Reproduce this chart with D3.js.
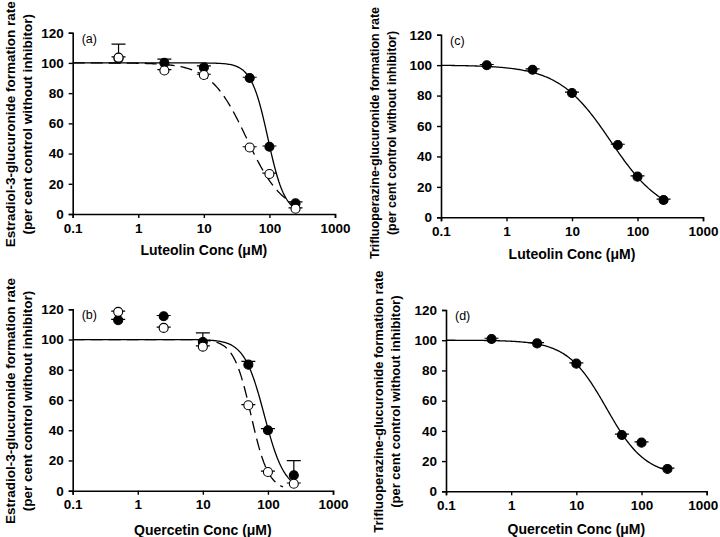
<!DOCTYPE html>
<html>
<head>
<meta charset="utf-8">
<script src="https://cdn.jsdelivr.net/npm/d3@7"></script>
<style>
    body { margin: 0; background: #fff; }
    text { font-family: "Liberation Sans", Arial, sans-serif; }
</style>
</head>
<body>
<script>
// inhibitor concentrations (uM), same for every panel
var conc = [0.5, 2.5, 10, 50, 100, 250];
var xTicks = [0.1, 1, 10, 100, 1000];
var yTicks = [0, 20, 40, 60, 80, 100, 120];

// (a) estradiol, luteolin
var aFilled = [103, 100, 97, 90, 44.5, 7];
var aFilledSd = [9.5, 2.5, 1, 0.5, 0.5, 1];
var aOpen = [103.5, 95, 92, 44, 26.5, 3.5];
var aOpenSd = [0.5, 0.5, 0.5, 0.5, 0.5, 0.5];

// (b) estradiol, quercetin
var bFilled = [112.8, 115.4, 98.4, 83.4, 40, 10.2];
var bFilledSd = [0.5, 0.5, 6, 2.2, 1, 9.7];
var bOpen = [118.3, 107.7, 95.3, 56.5, 12.4, 4.6];
var bOpenSd = [0.5, 0.5, 0.5, 0.5, 0.5, 0.5];

// (c) trifluoperazine, luteolin
var cFilled = [99.9, 97, 81.7, 47.5, 26.7, 11.4];
var cFilledSd = [0.5, 0.5, 0.5, 0.5, 0.5, 0.5];

// (d) trifluoperazine, quercetin
var dFilled = [100.8, 97.9, 84.5, 37.3, 32.2, 14.8];
var dFilledSd = [0.5, 0.5, 0.5, 0.5, 0.5, 0.5];

// fitted inhibition curves: top, bottom, IC50, hill slope, last x
var aSolidFit = [100, 0, 95, 3.4, 250];
var aDashFit = [100, 0, 45, 1.58, 250];
var bSolidFit = [100, 0, 88, 2.8, 240];
var bDashFit = [100, 0, 55, 3.25, 170];
var cFit = [100, 0, 39, 1.09, 250];
var dFit = [100, 10, 29, 1.45, 250];

var svg = d3.select("body")
    .append("svg")
    .attr("width", 720)
    .attr("height", 537);

/**
 * draws one panel with its axes
 */
function drawPanel(p) {
    var x = d3.scaleLog().domain([0.1, 1000]).range([p.left, p.right]);
    var y = d3.scaleLinear().domain([0, 120]).range([p.bottom, p.top]);
    var g = svg.append("g");

    var xAxis = g.append("g")
        .attr("transform", "translate(0," + p.bottom + ")")
        .call(d3.axisBottom(x).tickValues(xTicks).tickSize(4).tickPadding(5)
            .tickFormat(d3.format("")));
    var yAxis = g.append("g")
        .attr("transform", "translate(" + p.left + ",0)")
        .call(d3.axisLeft(y).tickValues(yTicks).tickSize(4).tickPadding(5));

    [xAxis, yAxis].forEach(function (ax) {
        ax.select(".domain").attr("stroke", "#000").attr("stroke-width", 1.6);
        ax.selectAll(".tick line").attr("stroke", "#000").attr("stroke-width", 1.4);
        ax.selectAll(".tick text")
            .attr("fill", "#000")
            .style("font-size", "13.5px")
            .style("font-weight", "bold");
    });
    // keep the last x label inside the window
    if (p.right > 705) {
        xAxis.selectAll(".tick text").filter(function (d) { return d === 1000; })
            .attr("dx", -4);
    }

    g.append("text")
        .attr("x", (p.left + p.right) / 2)
        .attr("y", p.bottom + p.xTitleDy)
        .style("text-anchor", "middle")
        .style("font-size", "14px")
        .style("font-weight", "bold")
        .text(p.xTitle);

    var cy = (p.top + p.bottom) / 2 + p.titleShift;
    p.yTitle.forEach(function (line, i) {
        g.append("text")
            .attr("transform", "translate(" + (p.titleX + i * 17) + "," + cy + ") rotate(-90)")
            .attr("dy", "0.35em")
            .style("text-anchor", "middle")
            .style("font-size", p.titleSize)
            .style("font-weight", "bold")
            .text(line);
    });

    g.append("text")
        .attr("x", p.left + 9)
        .attr("y", p.top + 10)
        .style("font-size", "12.5px")
        .text(p.label);

    var line = d3.line()
        .x(function (d) { return x(d[0]); })
        .y(function (d) { return y(d[1]); });

    p.fits.forEach(function (f) {
        var pts = [];
        var lo = Math.log10(0.1), hi = Math.log10(f.fit[4]);
        for (var i = 0; i <= 200; i++) {
            var c = Math.pow(10, lo + (hi - lo) * i / 200);
            var v = f.fit[1] + (f.fit[0] - f.fit[1]) / (1 + Math.pow(c / f.fit[2], f.fit[3]));
            pts.push([c, v]);
        }
        g.append("path")
            .datum(pts)
            .attr("d", line)
            .attr("fill", "none")
            .attr("stroke", "#000")
            .attr("stroke-width", 1.3)
            .attr("stroke-dasharray", f.dash ? "12,6" : null);
    });

    p.series.forEach(function (s) {
        var data = conc.map(function (c, i) { return { c: c, v: s.values[i], sd: s.sd[i] }; });
        var sg = g.append("g");
        sg.selectAll(".err")
            .data(data)
            .enter()
            .append("path")
            .attr("d", function (d) {
                var px = x(d.c), y0 = y(d.v), y1 = y(d.v + d.sd);
                return "M" + px + "," + y0 + "V" + y1 + "M" + (px - 7) + "," + y1 + "H" + (px + 7);
            })
            .attr("fill", "none")
            .attr("stroke", "#000")
            .attr("stroke-width", 1.2);
        sg.selectAll("circle")
            .data(data)
            .enter()
            .append("circle")
            .attr("cx", function (d) { return x(d.c); })
            .attr("cy", function (d) { return y(d.v); })
            .attr("r", 4.5)
            .attr("fill", s.open ? "#fff" : "#000")
            .attr("stroke", "#000")
            .attr("stroke-width", 1.1);
    });
}

var estTitle = ["Estradiol-3-glucuronide formation rate", "(per cent control without inhibitor)"];
var tfpTitle = ["Trifluoperazine-glucuronide formation rate", "(per cent control without inhibitor)"];

drawPanel({
    left: 72.7, right: 335, top: 32.7, bottom: 214, titleX: 10, xTitleDy: 41,
    titleShift: 1, titleSize: "13.5px",
    label: "(a)", xTitle: "Luteolin Conc (\u03bcM)", yTitle: estTitle,
    fits: [{ fit: aSolidFit }, { fit: aDashFit, dash: true }],
    series: [{ values: aFilled, sd: aFilledSd }, { values: aOpen, sd: aOpenSd, open: true }]
});
drawPanel({
    left: 72.7, right: 333, top: 309.3, bottom: 490.7, titleX: 10, xTitleDy: 44,
    titleShift: 1, titleSize: "13.5px",
    label: "(b)", xTitle: "Quercetin Conc (\u03bcM)", yTitle: estTitle,
    fits: [{ fit: bSolidFit }, { fit: bDashFit, dash: true }],
    series: [{ values: bFilled, sd: bFilledSd }, { values: bOpen, sd: bOpenSd, open: true }]
});
drawPanel({
    left: 441, right: 703, top: 34.7, bottom: 217.3, titleX: 375, xTitleDy: 42,
    titleShift: 7, titleSize: "12.5px",
    label: "(c)", xTitle: "Luteolin Conc (\u03bcM)", yTitle: tfpTitle,
    fits: [{ fit: cFit }],
    series: [{ values: cFilled, sd: cFilledSd }]
});
drawPanel({
    left: 446, right: 706.7, top: 310, bottom: 491.3, titleX: 378, xTitleDy: 43,
    titleShift: 1, titleSize: "13px",
    label: "(d)", xTitle: "Quercetin Conc (\u03bcM)", yTitle: tfpTitle,
    fits: [{ fit: dFit }],
    series: [{ values: dFilled, sd: dFilledSd }]
});
</script>
</body>
</html>
